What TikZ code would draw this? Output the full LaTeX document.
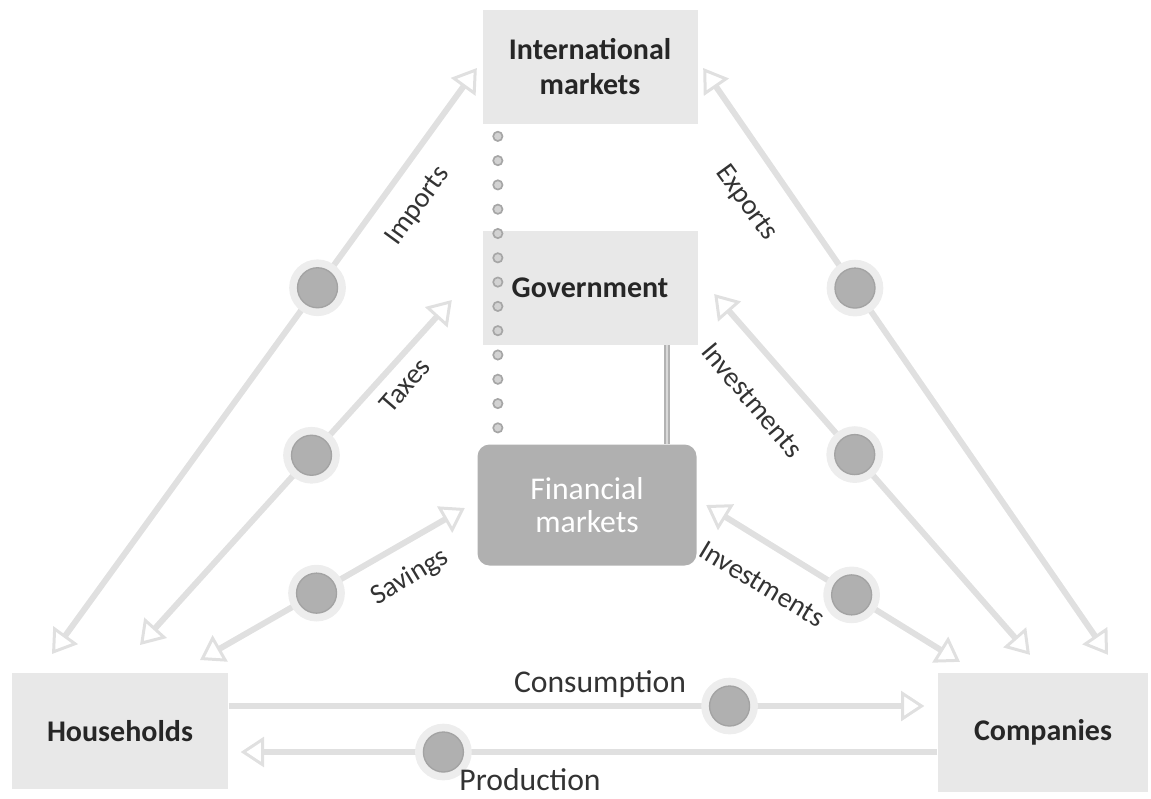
\documentclass[tikz,border=0pt]{standalone}
\usepackage{fontspec}
\setmainfont{Carlito}
\usetikzlibrary{arrows.meta,calc,positioning}

\begin{document}
\begin{tikzpicture}[x=0.3pt,y=-0.3pt,
box/.style={fill=gray!18,minimum width=64.5pt,minimum height=34pt,
  align=center,text=black!85,font=\fontsize{9}{10.5}\selectfont\bfseries},
flow/.style={draw=gray!24,line width=1.8pt,
  {Triangle[open,length=7pt,width=9pt,line width=.9pt]}-{Triangle[open,length=7pt,width=9pt,line width=.9pt]}},
oneway/.style={flow,-{Triangle[open,length=7pt,width=9pt,line width=.9pt]}},
flowdot/.style={circle,fill=gray!62,draw=gray!72,line width=.4pt,
  minimum size=12pt,inner sep=0pt,preaction={draw=gray!14,line width=5pt}},
minidot/.style={fill=gray!35,draw=gray!70,line width=.5pt},
lbl/.style={text=black!80,font=\fontsize{8.5}{10}\selectfont}]
\useasboundingbox (0,0) rectangle (1151,798);
\node[box] (im) at (590,67) {International\\markets};
\node[box] (gv) at (590,288) {Government};
\node[box,fill=gray!62,rounded corners=3.6pt,text=white,
  font=\fontsize{9.5}{10}\selectfont,minimum width=65.7pt,minimum height=36.3pt]
  (fm) at (587,505) {Financial\\markets};
\node[box,minimum width=64.8pt,minimum height=35pt] (hh) at (120,731) {Households};
\node[box,minimum width=63pt,minimum height=35.7pt] (co) at (1043,732) {Companies};
\draw[flow] ($(im.west)+(-5,1)$) -- node[flowdot,pos=.375] (d1) {} ($(hh.north)+(-68,-18)$);
\draw[flow] ($(gv.west)+(-30,12)$) -- node[flowdot,pos=.45] (d2) {} ($(hh.north)+(20,-27)$);
\draw[flow] ($(fm.west)+(-12,3)$) -- node[flowdot,pos=.56] (d3) {} ($(hh.north)+(80,-12)$);
\draw[flow] ($(im.east)+(5,1)$) -- node[flowdot,pos=.375] (d4) {} ($(co.north)+(65,-17)$);
\draw[flow] ($(gv.east)+(16,6)$) -- node[flowdot,pos=.445] (d5) {} ($(co.north)+(-13,-17)$);
\draw[flow] ($(fm.east)+(9,0)$) -- node[flowdot,pos=.573] (d6) {} ($(co.north)+(-83,-10)$);
\draw[oneway] ($(hh.east)+(0,-25)$) -- node[flowdot,pos=.72] (d7) {} ($(co.west)+(-13,-26)$);
\draw[oneway] ($(co.west)+(0,20)$) -- node[flowdot,pos=.709] (d8) {} ($(hh.east)+(12,21)$);
\coordinate (dtop) at ($(im.south west)+(16,12)$);
\coordinate (dbot) at ($(fm.north west)+(21,-16)$);
\foreach \k in {0,...,12}
  \filldraw[minidot] ($(dtop)!\k/12!(dbot)$) circle (1.4pt);
\draw[draw=gray!60,double=gray!30,double distance=.5pt,line width=.6pt]
  ($(gv.south)+(77,0)$) -- ($(fm.north)+(80,0)$);
\node[lbl,rotate=54] (l-imp) at (418,206) {Imports};
\node[lbl,rotate=49] (l-tax) at (405,385) {Taxes};
\node[lbl,rotate=31] (l-sav) at (410,577) {Savings};
\node[lbl,rotate=-54] (l-exp) at (746,203) {Exports};
\node[lbl,rotate=-50] (l-ginv) at (752,400) {Investments};
\node[lbl,rotate=-31] (l-finv) at (762,584) {Investments};
\node[lbl,font=\fontsize{9.5}{11}\selectfont] (l-con) at (600,684) {Consumption};
\node[lbl,font=\fontsize{9.5}{11}\selectfont] (l-pro) at (530,780) {Production};
\end{tikzpicture}
\end{document}
